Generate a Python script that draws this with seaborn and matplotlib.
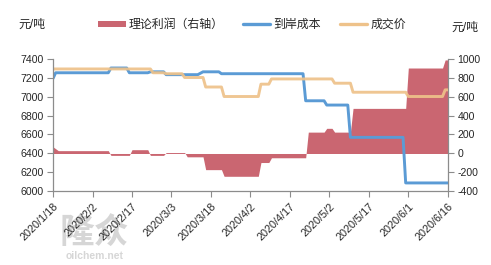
import matplotlib
matplotlib.use("Agg")
import matplotlib.pyplot as plt
from matplotlib.patches import Patch
from matplotlib.lines import Line2D
import seaborn as sns
import pandas as pd

# ---------------- data ----------------
cost_dates = ["2020-01-18", "2020-01-19", "2020-02-08", "2020-02-09", "2020-02-15", "2020-02-16",
              "2020-02-23", "2020-02-24", "2020-02-29", "2020-03-01", "2020-03-13", "2020-03-15",
              "2020-03-21", "2020-03-22", "2020-04-22", "2020-04-23", "2020-04-30", "2020-05-01",
              "2020-05-09", "2020-05-10", "2020-05-30", "2020-05-31", "2020-06-16"]
cost_values = [7190, 7250, 7250, 7300, 7300, 7250,
               7250, 7260, 7260, 7230, 7230, 7260,
               7260, 7240, 7240, 6955, 6955, 6910,
               6910, 6570, 6570, 6090, 6090]

price_dates = ["2020-01-18", "2020-02-24", "2020-02-25", "2020-02-29", "2020-03-01", "2020-03-07",
               "2020-03-08", "2020-03-15", "2020-03-16", "2020-03-22", "2020-03-23", "2020-04-05",
               "2020-04-06", "2020-04-09", "2020-04-10", "2020-05-03", "2020-05-04", "2020-05-10",
               "2020-05-11", "2020-05-31", "2020-06-01", "2020-06-14", "2020-06-15", "2020-06-16"]
price_values = [7290, 7290, 7250, 7250, 7240, 7240,
                7200, 7200, 7100, 7100, 7000, 7000,
                7130, 7130, 7185, 7185, 7140, 7140,
                7045, 7045, 7000, 7000, 7070, 7070]

profit_dates = ["2020-01-18", "2020-01-20", "2020-02-08", "2020-02-09", "2020-02-16", "2020-02-17",
                "2020-02-23", "2020-02-24", "2020-02-29", "2020-03-01", "2020-03-08", "2020-03-09",
                "2020-03-15", "2020-03-16", "2020-03-22", "2020-03-23", "2020-04-05", "2020-04-06",
                "2020-04-09", "2020-04-10", "2020-04-23", "2020-04-24", "2020-04-30", "2020-05-01",
                "2020-05-03", "2020-05-04", "2020-05-10", "2020-05-11", "2020-05-31", "2020-06-01",
                "2020-06-14", "2020-06-15", "2020-06-16"]
profit_values = [70, 30, 30, -20, -20, 40,
                 40, -20, -20, 10, 10, -35,
                 -35, -170, -170, -240, -240, -95,
                 -95, -45, -45, 225, 225, 265,
                 265, 225, 225, 475, 475, 900,
                 900, 985, 985]

series_names = ["理论利润（右轴）", "到岸成本", "成交价"]
unit_label = "元/吨"
x_tick_labels = ["2020/1/18", "2020/2/2", "2020/2/17", "2020/3/3", "2020/3/18", "2020/4/2",
                 "2020/4/17", "2020/5/2", "2020/5/17", "2020/6/1", "2020/6/16"]
left_ticks = [6000, 6200, 6400, 6600, 6800, 7000, 7200, 7400]
right_ticks = [-400, -200, 0, 200, 400, 600, 800, 1000]

# ---------------- style ----------------
sns.set_theme(style="white")
plt.rcParams["font.family"] = ["Liberation Sans", "Noto Sans CJK SC"]

C_PROFIT = "#CA6671"
C_COST = "#5B9BD5"
C_PRICE = "#EEC28A"
AX_COL = "#8C8C8C"
TXT = "#262626"

cost_df = pd.DataFrame({"date": pd.to_datetime(cost_dates), "value": cost_values})
price_df = pd.DataFrame({"date": pd.to_datetime(price_dates), "value": price_values})
profit_df = pd.DataFrame({"date": pd.to_datetime(profit_dates), "value": profit_values})
tick_dates = pd.to_datetime(x_tick_labels, format="%Y/%m/%d")

fig = plt.figure(figsize=(4.91, 2.65), dpi=100)
ax = fig.add_axes([0.108, 0.2774, 0.804, 0.5018])
ax2 = ax.twinx()

# profit area (right axis)
ax2.fill_between(profit_df["date"], 0, profit_df["value"], color=C_PROFIT, linewidth=0)

# lines (left axis)
sns.lineplot(data=cost_df, x="date", y="value", ax=ax, color=C_COST, linewidth=2.1, legend=False)
sns.lineplot(data=price_df, x="date", y="value", ax=ax, color=C_PRICE, linewidth=2.1, alpha=0.92,
             legend=False)

ax.set_zorder(ax2.get_zorder() + 1)
ax.patch.set_visible(False)

ax.set_xlim(tick_dates[0], tick_dates[-1])
ax.set_ylim(6000, 7400)
ax2.set_ylim(-400, 1000)

ax.set_xticks(tick_dates)
ax.set_xticklabels(x_tick_labels, rotation=45, ha="right", rotation_mode="anchor",
                   fontsize=7.8, color=TXT)
ax.set_yticks(left_ticks)
ax.set_yticklabels([str(v) for v in left_ticks], fontsize=7.6, color=TXT)
ax2.set_yticks(right_ticks)
ax2.set_yticklabels([str(v) for v in right_ticks], fontsize=7.6, color=TXT)

ax.set_xlabel("")
ax.set_ylabel("")
ax2.set_ylabel("")

for a in (ax, ax2):
    a.grid(False)
    a.spines["top"].set_visible(False)
    for s in ("left", "right", "bottom"):
        a.spines[s].set_color(AX_COL)
        a.spines[s].set_linewidth(0.9)
ax.spines["right"].set_visible(False)
ax2.spines["left"].set_visible(False)
ax2.spines["bottom"].set_visible(False)

ax.tick_params(axis="x", direction="out", length=4, width=0.8, color=AX_COL, pad=3, bottom=True)
ax.tick_params(axis="y", direction="out", length=4, width=0.8, color=AX_COL, pad=3, left=True)
ax2.tick_params(axis="y", direction="out", length=4, width=0.8, color=AX_COL, pad=3, right=True)

# unit labels
fig.text(18 / 491, 1 - 25 / 265, unit_label, fontsize=8.6, color=TXT, va="center", ha="left")
fig.text(451 / 491, 1 - 28 / 265, unit_label, fontsize=8.6, color=TXT, va="center", ha="left")

# legend
handles = [Patch(facecolor=C_PROFIT, edgecolor="none"),
           Line2D([0], [0], color=C_COST, lw=2.4),
           Line2D([0], [0], color=C_PRICE, lw=2.4)]
fig.legend(handles, series_names, loc="center", bbox_to_anchor=(252 / 491, 1 - 25 / 265),
           ncol=3, frameon=False, fontsize=8.6, handlelength=2.3, handleheight=0.45,
           handletextpad=0.25, columnspacing=1.6, labelcolor=TXT)

# watermark
fig.text(94 / 491, 1 - 233 / 265, "隆众", fontsize=25, fontweight="bold", color="#D6D6D6",
         ha="center", va="center", zorder=0)
fig.text(95 / 491, 1 - 256 / 265, "oilchem.net", fontsize=7.5, fontweight="bold", color="#D6D6D6",
         ha="center", va="center", zorder=0)

fig.savefig("out.png", dpi=100)
